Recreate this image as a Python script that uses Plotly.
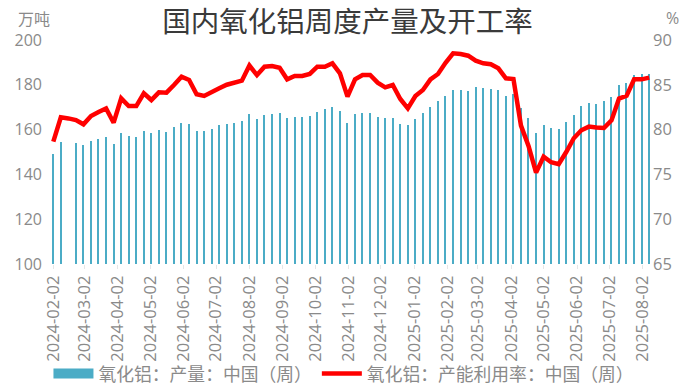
import pandas as pd
import plotly.graph_objects as go

dates = pd.date_range("2024-02-02", "2025-08-08", freq="7D")

production = [
    149.1, 154.5, None, 154.0, 153.1, 154.9, 155.8, 156.7, 153.6, 158.5,
    157.1, 156.7, 159.4, 158.5, 159.8, 158.9, 161.2, 162.9, 162.5, 159.4,
    159.4, 160.3, 162.1, 162.5, 162.9, 163.8, 167.0, 164.7, 166.5, 167.0,
    167.4, 165.2, 165.6, 165.6, 166.1, 167.9, 169.2, 170.1, 168.3, 162.9,
    167.0, 167.4, 167.4, 165.6, 165.2, 165.2, 162.5, 162.1, 164.7, 167.4,
    170.1, 172.8, 175.0, 177.7, 177.7, 177.2, 179.0, 178.6, 178.1, 177.7,
    175.0, 176.0, 169.6, 165.1, 158.4, 162.1, 160.7, 160.2, 163.4, 166.5,
    170.5, 171.9, 171.4, 172.8, 174.5, 179.9, 180.7, 184.4, 184.8, 184.9,
]

utilization = [
    78.65, 81.37, 81.25, 81.07, 80.59, 81.52, 81.96, 82.37, 80.77, 83.49,
    82.63, 82.63, 84.05, 83.30, 84.16, 84.12, 84.98, 85.91, 85.54, 83.94,
    83.75, 84.23, 84.61, 85.01, 85.24, 85.46, 87.15, 86.09, 87.02, 87.10,
    86.91, 85.61, 85.98, 85.98, 86.21, 87.02, 87.02, 87.40, 86.28, 83.68,
    85.61, 86.09, 86.09, 85.24, 84.72, 84.98, 83.42, 82.37, 83.75, 84.42,
    85.61, 86.21, 87.45, 88.51, 88.44, 88.25, 87.69, 87.40, 87.30, 86.84,
    85.72, 85.65, 80.45, 78.17, 75.20, 76.98, 76.35, 76.14, 77.50, 79.03,
    79.92, 80.33, 80.23, 80.18, 81.03, 83.47, 83.77, 85.61, 85.61, 85.80,
]

tick_dates = pd.date_range("2024-02-01", "2025-08-01", freq="MS") + pd.Timedelta(days=1)
tick_labels = [d.strftime("%Y-%m-%d") for d in tick_dates]

left_ticks = [100, 120, 140, 160, 180, 200]
right_ticks = [65, 70, 75, 80, 85, 90]

name_bar = "氧化铝：产量：中国（周）"
name_line = "氧化铝：产能利用率：中国（周）"

FONT = "Open Sans, Noto Sans CJK SC, sans-serif"
GRAY = "#8a8a8a"
TEAL = "#4BACC6"

ML, MR, MT, MB = 48, 43, 40, 124
W, H = 695, 388
plot_w = W - ML - MR
plot_h = H - MT - MB

fig = go.Figure()
fig.add_trace(go.Bar(
    x=dates, y=production, name=name_bar,
    marker=dict(color=TEAL, line=dict(width=0)),
    width=1.1 * 86400000,
    yaxis="y", showlegend=False,
))
# legend entry for the bars (wide swatch like the reference)
fig.add_trace(go.Scatter(
    x=[None], y=[None], name=name_bar, mode="lines",
    line=dict(color=TEAL, width=14), yaxis="y",
))
fig.add_trace(go.Scatter(
    x=dates, y=utilization, name=name_line, mode="lines",
    line=dict(color="#FF0000", width=4.5),
    connectgaps=True,
    yaxis="y2",
))

fig.update_layout(
    width=W, height=H,
    margin=dict(l=ML, r=MR, t=MT, b=MB, autoexpand=False),
    paper_bgcolor="white", plot_bgcolor="white",
    font=dict(family=FONT, color=GRAY, size=16),
    title=dict(
        text="国内氧化铝周度产量及开工率",
        x=0.5, xanchor="center", y=1 - 22 / H, yanchor="middle",
        font=dict(family="Noto Sans CJK SC", size=28.5, color="#3a3a3a"),
    ),
    xaxis=dict(
        type="date",
        range=["2024-01-28 02:00", "2025-08-10 14:00"],
        tickvals=list(tick_dates), ticktext=tick_labels,
        tickangle=-90,
        tickfont=dict(size=16.5, color=GRAY),
        showgrid=False, zeroline=False,
        showline=False, automargin=False,
        ticks="outside", ticklen=4, tickcolor="#e6e6e6",
    ),
    yaxis=dict(
        range=[100, 200], tickvals=left_ticks,
        showgrid=False, zeroline=False, showline=False, automargin=False,
        tickfont=dict(size=16, color=GRAY), ticklabelstandoff=5,
    ),
    yaxis2=dict(
        range=[65, 90], tickvals=right_ticks,
        overlaying="y", side="right",
        showgrid=False, zeroline=False, showline=False, automargin=False,
        tickfont=dict(size=16.5, color=GRAY),
    ),
    legend=dict(
        orientation="h", x=0.49, xanchor="center",
        yref="container", y=1 - 374 / H, yanchor="middle",
        font=dict(size=17.8, color=GRAY, family="Noto Sans CJK SC"),
        itemwidth=40, tracegroupgap=0,
        bgcolor="rgba(0,0,0,0)",
    ),
    bargap=0,
    showlegend=True,
    annotations=[
        dict(text="万吨", x=(34 - ML) / plot_w, y=(H - MB - 18) / plot_h,
             xref="paper", yref="paper", showarrow=False,
             xanchor="center", yanchor="middle",
             font=dict(size=16, color=GRAY, family="Noto Sans CJK SC")),
        dict(text="%", x=(673 - ML) / plot_w, y=(H - MB - 18) / plot_h,
             xref="paper", yref="paper", showarrow=False,
             xanchor="center", yanchor="middle",
             font=dict(size=16, color=GRAY)),
    ],
)

fig.write_html("out.html", config={"displayModeBar": False},
               post_script="document.body.style.margin='0';")
